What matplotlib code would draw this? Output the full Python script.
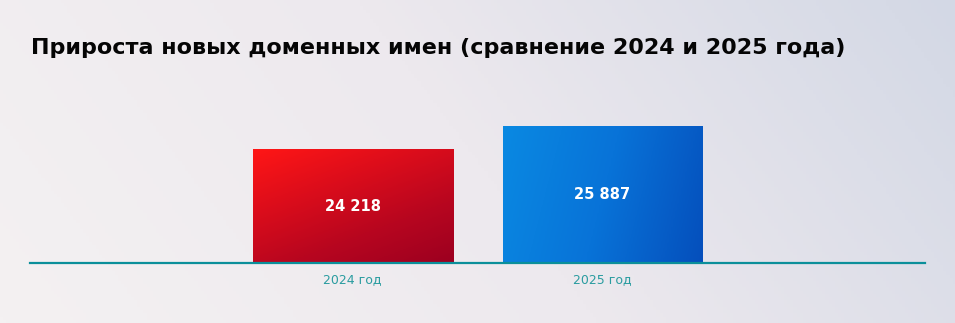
import numpy as np
import matplotlib.pyplot as plt
from matplotlib.colors import LinearSegmentedColormap

years = ['2024 год', '2025 год']
values = [24218, 25887]
value_labels = ['24 218', '25 887']
title = 'Прироста новых доменных имен (сравнение 2024 и 2025 года)'

plt.rcParams['font.family'] = ['DejaVu Sans']

fig = plt.figure(figsize=(9.55, 3.23), dpi=100)

# background gradient
bg = fig.add_axes([0, 0, 1, 1])
bg_cmap = LinearSegmentedColormap.from_list('bg', ['#f4f1f2', '#ede9ee', '#d3d8e5'])
gx, gy = np.meshgrid(np.linspace(0, 1, 300), np.linspace(0, 1, 100))
bg.imshow(0.8 * gx + 0.2 * (1 - gy), cmap=bg_cmap, aspect='auto', extent=[0, 1, 0, 1], origin='upper')
bg.axis('off')

fig.text(31 / 955, 1 - 48 / 323, title, fontsize=16, fontweight='bold', color='#050505', va='center', ha='left')

ax = fig.add_axes([30 / 955, 1 - 263 / 323, 895 / 955, 183 / 323])
ax.patch.set_alpha(0)
ax.set_xlim(-1.29, 2.29)
ax.set_ylim(16000, 29200)

red = LinearSegmentedColormap.from_list('r', ['#ff1616', '#dc0d1b', '#b8061f', '#9c0020'])
blue = LinearSegmentedColormap.from_list('b', ['#0a89e2', '#0873d8', '#054fbc'])
grads = [(red, 0.4, 0.6), (blue, 0.85, 0.15)]

x = np.arange(len(values))
bars = ax.bar(x, values, width=0.8, color='none', zorder=2)
for b, (cm, wx, wy), lab in zip(bars, grads, value_labels):
    x0, y0 = b.get_x(), ax.get_ylim()[0]
    x1, y1 = x0 + b.get_width(), b.get_height()
    u, v = np.meshgrid(np.linspace(0, 1, 100), np.linspace(0, 1, 100))
    im = ax.imshow(wx * u + wy * v, cmap=cm, extent=[x0, x1, y0, y1], origin='upper',
                   aspect='auto', zorder=2)
    im.set_clip_path(b)
    ax.text(b.get_x() + b.get_width() / 2, (y0 + y1) / 2, lab, color='white', fontsize=10.5,
            fontweight='bold', ha='center', va='center', zorder=3)

ax.axhline(16000, color='#0b8f9a', lw=1.6, zorder=4, clip_on=False)
ax.set_xticks(x)
ax.set_xticklabels(years, color='#2a9ca0', fontsize=9)
ax.tick_params(axis='x', length=0, pad=7)
ax.set_yticks([])
for s in ax.spines.values():
    s.set_visible(False)

fig.savefig('out.png', dpi=100)
